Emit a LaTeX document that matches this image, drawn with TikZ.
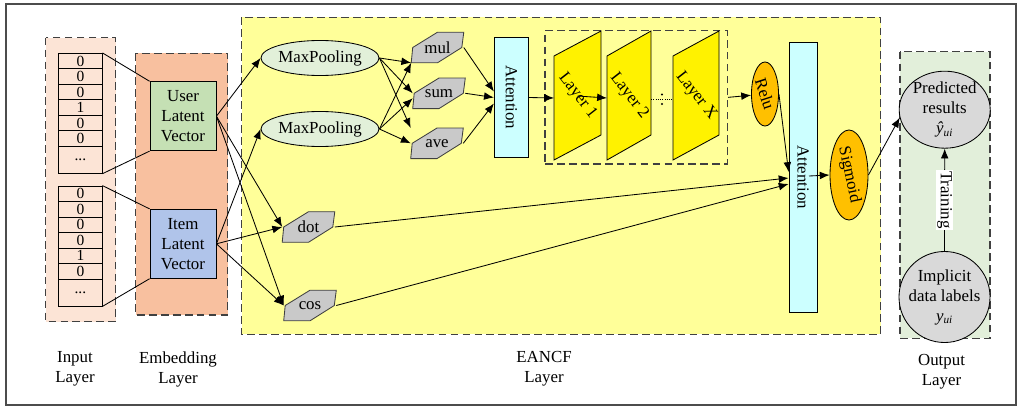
\documentclass[tikz,border=0pt]{standalone}
\usepackage{fontspec}
\setmainfont{Liberation Serif}
\usetikzlibrary{arrows.meta,shapes.geometric,calc,positioning}

\definecolor{inputfill}{HTML}{FCE4D6}
\definecolor{embfill}{HTML}{F8C09F}
\definecolor{userfill}{HTML}{C5E0B4}
\definecolor{itemfill}{HTML}{B0C4EA}
\definecolor{eancffill}{HTML}{FFFF99}
\definecolor{poolfill}{HTML}{E2F0D9}
\definecolor{opfill}{HTML}{C9C9C9}
\definecolor{attfill}{HTML}{CCFFFF}
\definecolor{actfill}{HTML}{FFC000}
\definecolor{outfill}{HTML}{E2EFDA}
\definecolor{resfill}{HTML}{D9D9D9}
\definecolor{dashgray}{HTML}{404040}

\pgfdeclarelayer{back}
\pgfdeclarelayer{mid}
\pgfsetlayers{back,mid,main}

\begin{document}
\begin{tikzpicture}[x=0.025cm, y=-0.025cm,
    every node/.style={font=\fontsize{12}{14.2}\selectfont, inner sep=0pt},
    thinline/.style={line width=0.6pt},
    arr/.style={thinline, -{Latex[length=7pt,width=5.5pt]}},
    dashbox/.style={draw=dashgray, line width=0.9pt, dash pattern=on 5.5pt off 3pt},
    cell/.style={draw, thinline, minimum width=1.08cm, minimum height=0.3875cm, font=\fontsize{11}{13}\selectfont},
    latent/.style={draw, thinline, minimum width=1.65cm, minimum height=1.725cm, align=center},
    pool/.style={ellipse, draw, thinline, fill=poolfill, minimum width=2.65cm, minimum height=0.875cm},
    opbox/.style={minimum width=1.3cm, minimum height=0.75cm},
    opshape/.style={draw=black!75, thinline, fill=opfill},
    attbox/.style={draw, thinline, fill=attfill},
    layershape/.style={draw, thinline, fill=yellow},
    act/.style={ellipse, draw, thinline, fill=actfill},
    result/.style={ellipse, draw, thinline, fill=resfill, minimum width=2.275cm},
  ]
\useasboundingbox (0,0) rectangle (1019,407);
\draw[black!70, line width=0.9pt] (6,4) rectangle (1016,405);

% layer frames
\begin{pgfonlayer}{back}
  \draw[dashbox, fill=inputfill] (45.7,37.7) rectangle (115.7,321.7);
  \draw[dashbox, fill=embfill] (135.7,53.3) rectangle (227.7,315);
  \draw[dashbox, fill=eancffill] (241.7,17.3) rectangle (880.7,334.3);
  \draw[dashbox, fill=outfill] (900,51.7) rectangle (990,338.3);
  \node[dashbox, minimum width=4.5575cm, minimum height=3.3325cm] (hidden) at (636.2,97.35) {};
\end{pgfonlayer}

\node[align=center] (inlab) at (75,369) {Input\\Layer};
\node[align=center] (emblab) at (178,369) {Embedding\\Layer};
\node[align=center] (eancflab) at (544,368.5) {EANCF\\Layer};
\node[align=center] (outlab) at (941.5,372) {Output\\Layer};

% one-hot inputs
\foreach \v [count=\i] in {0,0,0,1,0,0}
  \node[cell] (u\i) at (80.4,{61.05+15.5*(\i-1)}) {\v};
\node[cell, minimum height=0.675cm] (u7) at (80.4,159.8) {...};
\foreach \v [count=\i] in {0,0,0,0,1,0}
  \node[cell] (i\i) at (80.4,{193.75+15.5*(\i-1)}) {\v};
\node[cell, minimum height=0.675cm] (i7) at (80.4,292.5) {...};

\node[latent, fill=userfill] (user) at (183,116.2) {User\\Latent\\Vector};
\node[latent, fill=itemfill] (item) at (183,243.8) {Item\\Latent\\Vector};

\draw[thinline] (u1.north east) -- (user.north west);
\draw[thinline] (u7.south east) -- (user.south west);
\draw[thinline] (i1.north east) -- (item.north west);
\draw[thinline] (i7.south east) -- (item.south west);

% EANCF
\node[pool] (mp1) at (320,58) {MaxPooling};
\node[pool] (mp2) at (320,129) {MaxPooling};

\node[opbox] (mul) at (437.5,47.5) {mul};
\node[opbox] (sum) at (439,93.3) {sum};
\node[opbox] (ave) at (437,143.3) {ave};
\node[opbox] (dot) at (308.5,227) {dot};
\node[opbox] (cos) at (310,305.5) {cos};
\begin{pgfonlayer}{mid}
  \foreach \n in {mul,sum,ave,dot,cos}
    \draw[opshape] (\n.south west) -- ($(\n.west)+(1.5,0)$) -- (\n.north) -- (\n.north east)
      -- ($(\n.east)+(-2,0)$) -- (\n.south) -- cycle;
\end{pgfonlayer}

\node[attbox, minimum width=0.85cm, minimum height=3.01cm, label={[rotate=-90]center:Attention}] (att1) at (511.3,97.5) {};
\node[attbox, minimum width=0.7cm, minimum height=6.75cm, label={[rotate=-90]center:Attention}] (att2) at (803,177) {};

\begin{pgfonlayer}{mid}
  \foreach \a/\b [count=\k] in {554/601, 607/651, 673/719}
    \draw[layershape] (\a,56) -- (\b,31) -- (\b,135) -- (\a,160) -- cycle;
\end{pgfonlayer}
\node[rotate=-52] (lay1) at (577.5,96) {Layer 1};
\node[rotate=-52] (lay2) at (629,96) {Layer 2};
\node[rotate=-52] (lay3) at (696,96) {Layer X};
\coordinate (lay1-w) at (554,98);
\coordinate (lay2-w) at (607,98);
\coordinate (lay2-e) at (651,99);
\coordinate (lay3-w) at (673,99);

\node[act, minimum width=0.675cm, minimum height=1.6cm, label={[rotate=-72]center:Relu}] (relu) at (765,94) {};
\node[act, minimum width=0.95cm, minimum height=2.25cm, label={[rotate=-78]center:Sigmoid}] (sig) at (849,175) {};

% output
\node[result, minimum height=1.925cm, label={[align=center]center:{Predicted\\results\\\textit{ŷ\textsubscript{ui}}}}] (pred) at (944.7,109.7) {};
\node[result, circle, minimum size=2.275cm, label={[align=center]center:{Implicit\\data labels\\\textit{y\textsubscript{ui}}}}] (impl) at (944.5,297) {};

% connectors
\draw[arr] (user.east) -- (mp1.west);
\draw[arr] (user.east) -- (dot.west);
\draw[arr] (user.east) -- (cos.west);
\draw[arr] (item.east) -- (mp2.west);
\draw[arr] (item.east) -- (dot.west);
\draw[arr] (item.east) -- (cos.west);

\draw[arr] (mp1.east) -- (mul.south west);
\draw[arr] (mp1.east) -- (sum.west);
\draw[arr] (mp1.east) -- (ave.north west);
\draw[arr] (mp2.east) -- (mul.south west);
\draw[arr] (mp2.east) -- ($(sum.west)+(0,5)$);
\draw[arr] (mp2.east) -- (ave.west);

\draw[arr] (mul.east) -- ($(att1.west)+(0,-6)$);
\draw[arr] (sum.east) -- (att1.west);
\draw[arr] (ave.east) -- ($(att1.west)+(0,6)$);

\draw[arr] (att1.east) -- (lay1-w);
\draw[arr] (lay1.center) -- (lay2-w);
\draw[thinline, densely dotted] (lay2-e) -- (lay3-w);
\fill (662,94.5) circle (0.8pt);
\fill (662,104) circle (0.8pt);
\draw[arr] (hidden.east) -- (relu);

\draw[arr] (relu.east) -- ($(att2.west)+(0,-5)$);
\draw[arr] (dot.east) -- ($(att2.west)+(0,1)$);
\draw[arr] (cos.east) -- ($(att2.west)+(0,7)$);
\draw[arr] ($(att2.center)+(6,-1)$) -- (sig.west);
\draw[arr] (sig.east) -- (pred.190);
\draw[arr] (impl.north) -- node[fill=white, rotate=-90, inner sep=1pt] (train) {Training} (pred.south);
\end{tikzpicture}
\end{document}
